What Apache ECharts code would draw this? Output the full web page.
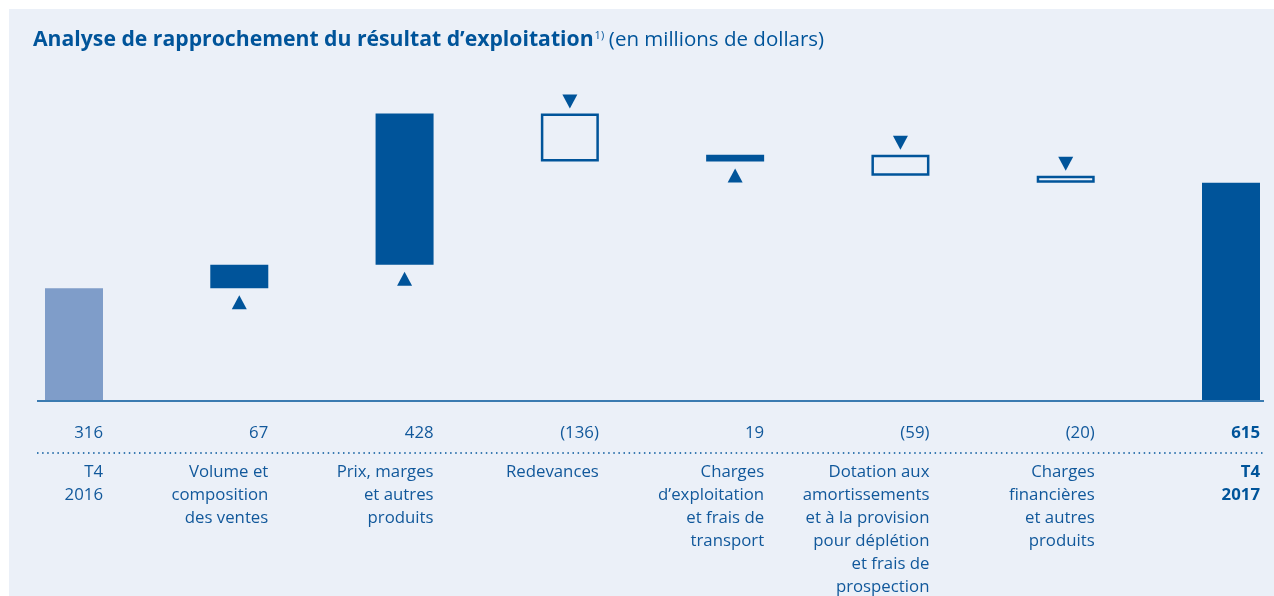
<!DOCTYPE html>
<html>
<head>
<meta charset="utf-8">
<title>Analyse de rapprochement du résultat d’exploitation</title>
<script src="https://cdn.jsdelivr.net/npm/echarts@6/dist/echarts.min.js"></script>
<style>
  html, body { margin: 0; padding: 0; background: #fff; }
  #chart { width: 1274px; height: 596px; }
</style>
</head>
<body>
<div id="chart"></div>
<script>
/*
 * Données (en millions de dollars)
 */
var categories = [
	'T4\n2016',
	'Volume et\ncomposition\ndes ventes',
	'Prix, marges\net autres\nproduits',
	'Redevances',
	'Charges\nd’exploitation\net frais de\ntransport',
	'Dotation aux\namortissements\net à la provision\npour déplétion\net frais de\nprospection',
	'Charges\nfinancières\net autres\nproduits',
	'T4\n2017'
];
var startValue = 316;
var deltas = [67, 428, -136, 19, -59, -20];
var endValue = 615;

var DARK = '#00549a';
var LIGHT = '#7f9dc9';
var BG = '#ebf0f8';
var TEXT = '#11589b';
var FONT = '"Open Sans", "Noto Sans", sans-serif';

/*
 * Construction des séries en cascade
 */
var baseArr = [0], posArr = ['-'], negArr = ['-'], totalArr = [], arrowArr = ['-'], valueLabels = [];
totalArr.push({ value: startValue, itemStyle: { color: LIGHT } });
valueLabels.push(String(startValue));
var running = startValue;
for (var n = 0; n < deltas.length; n++) {
	var d = deltas[n];
	if (d >= 0) {
		baseArr.push(running);
		posArr.push(d);
		negArr.push('-');
		arrowArr.push({ value: running, symbolRotate: 0, symbolOffset: [0, 14] });
		valueLabels.push(String(d));
	} else {
		baseArr.push(running + d);
		posArr.push('-');
		negArr.push(-d);
		arrowArr.push({ value: running, symbolRotate: 180, symbolOffset: [0, -12] });
		valueLabels.push('(' + (-d) + ')');
	}
	totalArr.push('-');
	running += d;
}
baseArr.push(0);
posArr.push('-');
negArr.push('-');
arrowArr.push('-');
totalArr.push({ value: endValue, itemStyle: { color: DARK } });
valueLabels.push(String(endValue));

var chart = echarts.init(document.getElementById('chart'));
var option = {
	backgroundColor: '#fff',
	animation: false,
	textStyle: { fontFamily: FONT },
	title: {
		left: 33,
		top: 26,
		padding: 0,
		text: '{b|Analyse de rapprochement du résultat d’exploitation}{s|1)} {n|(en millions de dollars)}',
		textStyle: {
			rich: {
				b: { fontFamily: FONT, fontSize: 21.2, fontWeight: 'bold', color: DARK, lineHeight: 28 },
				s: { fontFamily: FONT, fontSize: 11, fontWeight: 'normal', color: DARK, lineHeight: 28, padding: [0, 0, 9, 1] },
				n: { fontFamily: FONT, fontSize: 20.5, fontWeight: 'normal', color: DARK, lineHeight: 28 }
			}
		}
	},
	graphic: [
		{ type: 'rect', z: -100, shape: { x: 9, y: 9, width: 1265, height: 587 }, style: { fill: BG } },
		{ type: 'line', shape: { x1: 37, y1: 401, x2: 1264, y2: 401 }, style: { stroke: DARK, lineWidth: 1.5 } },
		{ type: 'line', shape: { x1: 37, y1: 453, x2: 1264, y2: 453 }, style: { stroke: DARK, lineWidth: 1.5, lineDash: [1.5, 3.6] } }
	],
	grid: { left: 74, right: 43, top: 82, bottom: 195, containLabel: false },
	xAxis: {
		type: 'category',
		data: categories,
		boundaryGap: false,
		axisLine: { show: false },
		axisTick: { show: false },
		axisLabel: {
			interval: 0,
			margin: 5,
			align: 'right',
			verticalAlign: 'top',
			padding: [0, -29, 0, 0],
			formatter: function(name, idx) {
				var bold = idx === categories.length - 1;
				var lines = name.split('\n');
				var s = (bold ? '{vb|' : '{v|') + valueLabels[idx] + '}';
				for (var i = 0; i < lines.length; i++) {
					s += '\n' + (bold ? '{cb|' : '{c|') + lines[i] + '}';
				}
				return s;
			},
			rich: {
				v: { fontFamily: FONT, fontSize: 16.8, color: TEXT, lineHeight: 56 },
				vb: { fontFamily: FONT, fontSize: 16.8, fontWeight: 'bold', color: DARK, lineHeight: 56 },
				c: { fontFamily: FONT, fontSize: 16.8, color: TEXT, lineHeight: 23 },
				cb: { fontFamily: FONT, fontSize: 16.8, fontWeight: 'bold', color: DARK, lineHeight: 23 }
			}
		}
	},
	yAxis: {
		type: 'value',
		min: 0,
		max: 900,
		show: false,
		splitLine: { show: false }
	},
	series: [
		{
			name: 'base',
			type: 'bar',
			stack: 'w',
			barWidth: 58,
			silent: true,
			itemStyle: { color: 'transparent' },
			data: baseArr
		},
		{
			name: 'total',
			type: 'bar',
			stack: 'w',
			barWidth: 58,
			data: totalArr
		},
		{
			name: 'hausse',
			type: 'bar',
			stack: 'w',
			barWidth: 58,
			itemStyle: { color: DARK },
			data: posArr
		},
		{
			name: 'baisse',
			type: 'bar',
			stack: 'w',
			barWidth: 58,
			itemStyle: { color: BG, borderColor: DARK, borderWidth: 2.5 },
			data: negArr
		},
		{
			name: 'fleche',
			type: 'scatter',
			symbol: 'triangle',
			symbolSize: [15, 14],
			itemStyle: { color: DARK, opacity: 1 },
			data: arrowArr
		}
	]
};
chart.setOption(option);
</script>
</body>
</html>
